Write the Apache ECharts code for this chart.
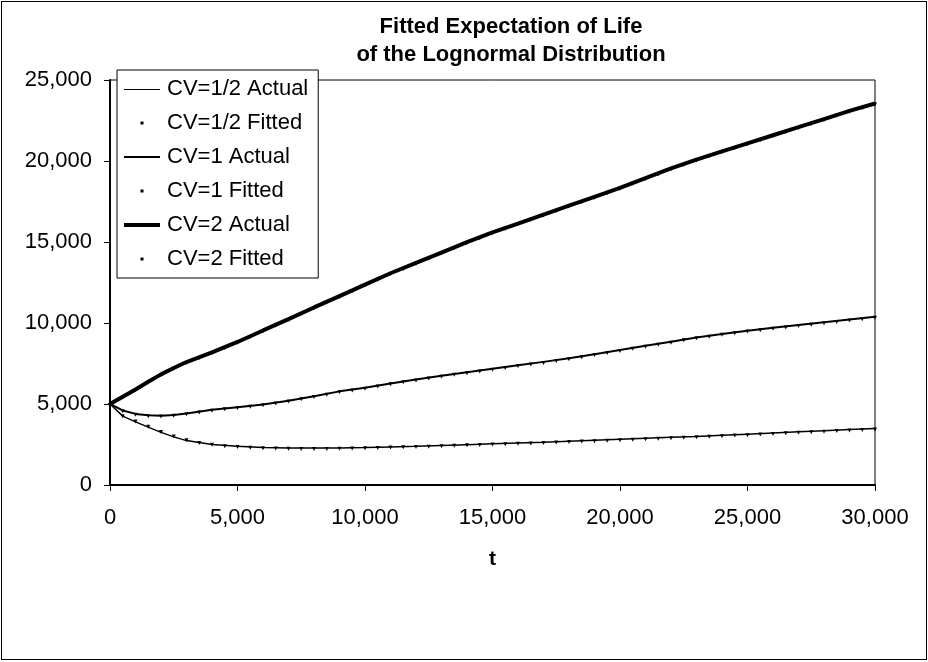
<!DOCTYPE html>
<html>
<head>
<meta charset="utf-8">
<script src="https://cdn.jsdelivr.net/npm/echarts@6/dist/echarts.min.js"></script>
<style>
html,body{margin:0;padding:0;background:#fff;}
#frame{position:absolute;left:1px;top:1px;width:924px;height:657px;border:1px solid #000;}
#chart{position:absolute;left:0;top:0;width:928px;height:662px;}
</style>
</head>
<body>
<div id="frame"></div>
<div id="chart"></div>
<script>
// ---- data ----
var titleLines = ['Fitted Expectation of Life', 'of the Lognormal Distribution'];
var xAxisName = 't';
var seriesNames = ['CV=1/2 Actual', 'CV=1/2 Fitted', 'CV=1 Actual', 'CV=1 Fitted', 'CV=2 Actual', 'CV=2 Fitted'];

var tActual = [0, 500, 1000, 1500, 2000, 2500, 3000, 4000, 5000, 6000, 7000, 8000, 9000, 10000,
  11000, 12000, 13000, 14000, 15000, 16000, 17000, 18000, 19000, 20000, 21000, 22000, 23000,
  24000, 25000, 26000, 27000, 28000, 29000, 30000];
var cvHalfActual = [5000, 4250, 3900, 3570, 3250, 2970, 2740, 2500, 2390, 2320, 2290, 2280, 2285, 2310,
  2350, 2390, 2440, 2490, 2540, 2590, 2640, 2700, 2760, 2820, 2880, 2940, 3000,
  3070, 3140, 3210, 3280, 3350, 3420, 3490];
var cvOneActual = [5000, 4600, 4390, 4300, 4280, 4320, 4420, 4640, 4800, 4970, 5200, 5480, 5780, 6000,
  6270, 6510, 6740, 6960, 7170, 7390, 7600, 7820, 8070, 8330, 8590, 8840, 9110,
  9320, 9520, 9700, 9870, 10040, 10210, 10390];
var cvTwoActual = [5000, 5450, 5900, 6370, 6830, 7220, 7590, 8190, 8830, 9540, 10240, 10960, 11660, 12370,
  13070, 13710, 14350, 14990, 15590, 16140, 16690, 17240, 17790, 18340, 18940, 19540, 20090,
  20590, 21090, 21590, 22090, 22590, 23090, 23550];

var tFitted = [0, 500, 1000, 1500, 2000, 2500, 3000, 3500, 4000, 4500, 5000, 5500, 6000, 6500, 7000, 7500,
  8000, 8500, 9000, 9500, 10000, 10500, 11000, 11500, 12000, 12500, 13000, 13500, 14000, 14500, 15000,
  15500, 16000, 16500, 17000, 17500, 18000, 18500, 19000, 19500, 20000, 20500, 21000, 21500, 22000,
  22500, 23000, 23500, 24000, 24500, 25000, 25500, 26000, 26500, 27000, 27500, 28000, 28500, 29000,
  29500, 30000];
var cvHalfFitted = [5000, 4300, 3980, 3650, 3330, 3050, 2820, 2650, 2540, 2460, 2400, 2360, 2330, 2310, 2300, 2290,
  2290, 2290, 2300, 2310, 2330, 2350, 2370, 2390, 2410, 2430, 2460, 2480, 2510, 2530, 2560,
  2580, 2610, 2630, 2660, 2680, 2710, 2740, 2770, 2800, 2830, 2860, 2890, 2920, 2950,
  2980, 3010, 3040, 3070, 3110, 3140, 3180, 3210, 3250, 3280, 3320, 3350, 3390, 3420,
  3460, 3490];
var cvOneFitted = [5000, 4620, 4400, 4310, 4290, 4330, 4430, 4540, 4650, 4730, 4810, 4890, 4980, 5090, 5210, 5350,
  5490, 5640, 5790, 5900, 6010, 6140, 6280, 6400, 6520, 6640, 6750, 6860, 6960, 7070, 7180,
  7290, 7400, 7500, 7600, 7710, 7820, 7950, 8080, 8210, 8340, 8470, 8600, 8720, 8850,
  8990, 9120, 9220, 9330, 9430, 9530, 9610, 9700, 9790, 9880, 9960, 10050, 10130, 10220,
  10300, 10390];
var cvTwoFitted = [5000, 5460, 5920, 6390, 6850, 7230, 7600, 7900, 8200, 8520, 8840, 9200, 9550, 9900, 10250, 10610,
  10970, 11320, 11670, 12030, 12380, 12730, 13080, 13400, 13720, 14040, 14360, 14680, 15000, 15300, 15600,
  15880, 16150, 16430, 16700, 16980, 17250, 17530, 17800, 18080, 18350, 18650, 18950, 19250, 19550,
  19830, 20100, 20350, 20600, 20850, 21100, 21350, 21600, 21850, 22100, 22350, 22600, 22850, 23100,
  23330, 23550];

var xMin = 0, xMax = 30000, xStep = 5000;
var yMin = 0, yMax = 25000, yStep = 5000;

// ---- build ----
function pairs(xs, ys) { return xs.map(function (x, i) { return [x, ys[i]]; }); }
var fontFam = '"Liberation Sans", Arial, sans-serif';
var IW = 36, IH = 20;
function lineIcon(w) {
  var y0 = Math.round(IH / 2 - w / 2), y1 = y0 + w;
  return 'path://M0,0L0,0M' + IW + ',' + IH + 'L' + IW + ',' + IH +
    'M0,' + y0 + 'L' + IW + ',' + y0 + 'L' + IW + ',' + y1 + 'L0,' + y1 + 'Z';
}
function dotIcon() {
  var c = IW / 2, r = 1.5;
  return 'path://M0,0L0,0M' + IW + ',' + IH + 'L' + IW + ',' + IH +
    'M' + (c - r) + ',' + (IH / 2 - r) + 'L' + (c + r) + ',' + (IH / 2 - r) + 'L' + (c + r) + ',' + (IH / 2 + r) + 'L' + (c - r) + ',' + (IH / 2 + r) + 'Z';
}
var legendIcons = [lineIcon(1), dotIcon(), lineIcon(2), dotIcon(), lineIcon(4), dotIcon()];

function actual(name, xs, ys, w) {
  return { name: name, type: 'line', data: pairs(xs, ys), symbol: 'none', smooth: false,
    lineStyle: { color: '#000', width: w }, itemStyle: { color: '#000' }, z: 2, silent: true };
}
function fitted(name, xs, ys) {
  return { name: name, type: 'line', data: pairs(xs, ys), symbol: 'triangle', symbolRotate: 180, symbolSize: 4,
    symbolOffset: [0, 1],
    showSymbol: true, lineStyle: { width: 0, opacity: 0 }, itemStyle: { color: '#000' }, z: 3, silent: true };
}

var chart = echarts.init(document.getElementById('chart'), null, { renderer: 'canvas' });
chart.setOption({
  backgroundColor: 'transparent',
  animation: false,
  title: {
    text: titleLines.join('\n'), left: 506, top: 8, textAlign: 'center',
    textStyle: { fontFamily: fontFam, fontWeight: 'bold', fontSize: 22, lineHeight: 28, color: '#000' }
  },
  legend: {
    orient: 'vertical', left: 117, top: 70, width: 201,
    padding: [8, 10, 8, 7], itemGap: 12, itemWidth: IW, itemHeight: IH,
    backgroundColor: '#fff', borderColor: '#000', borderWidth: 1,
    textStyle: { fontFamily: fontFam, fontSize: 22, color: '#000', lineHeight: 20, padding: [0, 0, 0, 2] },
    data: seriesNames.map(function (n, i) {
      return { name: n, icon: legendIcons[i], itemStyle: { color: '#000', borderWidth: 0 } };
    })
  },
  grid: { left: 110, right: 53, top: 80, bottom: 177, show: true, borderColor: '#000', borderWidth: 1, containLabel: false },
  xAxis: {
    type: 'value', min: xMin, max: xMax, interval: xStep,
    name: xAxisName, nameLocation: 'middle', nameGap: 64,
    nameTextStyle: { fontFamily: fontFam, fontWeight: 'bold', fontSize: 21, color: '#000' },
    axisLine: { show: true, onZero: false, lineStyle: { color: '#000', width: 2 } },
    axisTick: { show: true, length: 6, lineStyle: { color: '#000', width: 1 } },
    axisLabel: { margin: 22, fontFamily: fontFam, fontSize: 22, color: '#000',
      formatter: function (v) { return v.toLocaleString('en-US'); } },
    splitLine: { show: false }
  },
  yAxis: {
    type: 'value', min: yMin, max: yMax, interval: yStep,
    axisLine: { show: true, onZero: false, lineStyle: { color: '#000', width: 2 } },
    axisTick: { show: true, length: 6, lineStyle: { color: '#000', width: 1 } },
    axisLabel: { margin: 18, fontFamily: fontFam, fontSize: 22, color: '#000',
      formatter: function (v) { return v.toLocaleString('en-US'); } },
    splitLine: { show: false }
  },
  series: [
    actual(seriesNames[0], tActual, cvHalfActual, 1.5),
    fitted(seriesNames[1], tFitted, cvHalfFitted),
    actual(seriesNames[2], tActual, cvOneActual, 2),
    fitted(seriesNames[3], tFitted, cvOneFitted),
    actual(seriesNames[4], tActual, cvTwoActual, 4),
    fitted(seriesNames[5], tFitted, cvTwoFitted)
  ]
});
</script>
</body>
</html>
